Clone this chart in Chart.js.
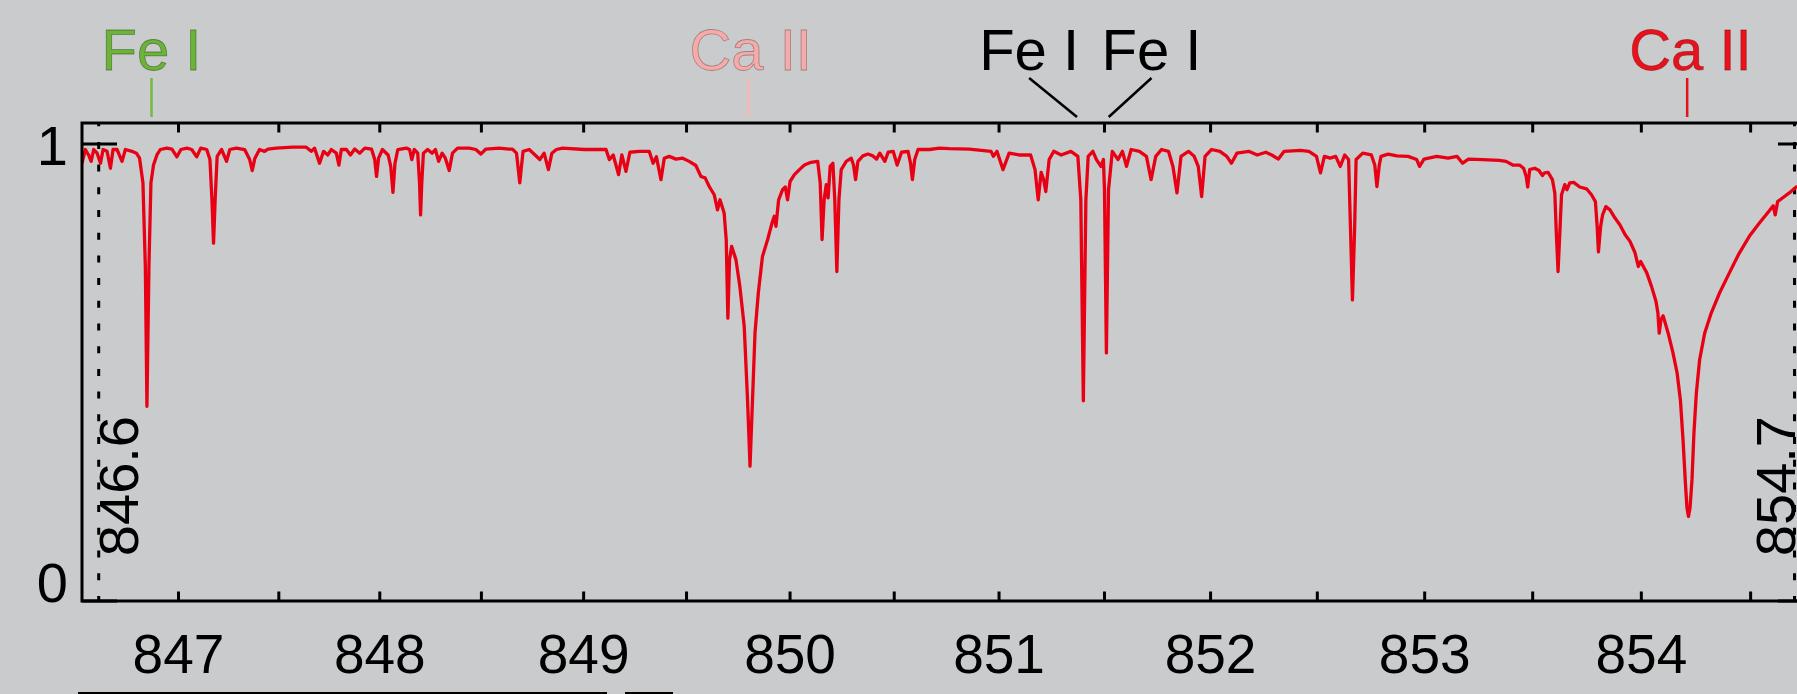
<!DOCTYPE html>
<html>
<head>
<meta charset="utf-8">
<title>Ca II triplet region spectrum</title>
<script src="https://cdn.jsdelivr.net/npm/chart.js@4.4.1/dist/chart.umd.min.js"></script>
<style>
  html, body { margin: 0; padding: 0; background: #c9cbcc; overflow: hidden; }
  #wrap { width: 1797px; height: 694px; position: relative; overflow: hidden; }
  canvas { display: block; }
</style>
</head>
<body>
<!-- the plot box runs a little past the right edge of the page, so the canvas is wider than the view -->
<div id="wrap"><canvas id="spec" width="1813" height="694" style="width:1813px;height:694px"></canvas></div>
<script>
// Normalised flux against wavelength (nm)
const wavelength = [
  846.516, 846.533, 846.549, 846.562, 846.575, 846.592, 846.609, 846.622, 846.642, 846.659,
  846.672, 846.692, 846.717, 846.734, 846.767, 846.789, 846.805, 846.822, 846.834, 846.842,
  846.852, 846.862, 846.875, 846.892, 846.909, 846.942, 846.967, 846.992, 847.012, 847.042,
  847.066, 847.091, 847.111, 847.141, 847.157, 847.167, 847.175, 847.183, 847.193, 847.215,
  847.240, 847.256, 847.289, 847.330, 847.355, 847.368, 847.381, 847.404, 847.429, 847.446,
  847.487, 847.570, 847.636, 847.661, 847.677, 847.702, 847.722, 847.743, 847.760, 847.785,
  847.798, 847.810, 847.835, 847.855, 847.876, 847.901, 847.926, 847.959, 847.975, 847.984,
  847.994, 848.013, 848.041, 848.054, 848.065, 848.075, 848.089, 848.131, 848.147, 848.158,
  848.170, 848.187, 848.196, 848.201, 848.207, 848.215, 848.236, 848.258, 848.274, 848.290,
  848.307, 848.323, 848.342, 848.358, 848.383, 848.440, 848.473, 848.497, 848.522, 848.587,
  848.636, 848.652, 848.672, 848.688, 848.704, 848.734, 848.763, 848.786, 848.807, 848.828,
  848.845, 848.867, 848.897, 849.003, 849.109, 849.125, 849.144, 849.170, 849.186, 849.206,
  849.225, 849.270, 849.319, 849.338, 849.354, 849.376, 849.392, 849.416, 849.449, 849.481,
  849.513, 849.545, 849.570, 849.590, 849.610, 849.634, 849.650, 849.662, 849.682, 849.692,
  849.700, 849.708, 849.718, 849.739, 849.758, 849.779, 849.795, 849.807, 849.819, 849.831,
  849.847, 849.867, 849.892, 849.913, 849.924, 849.932, 849.945, 849.964, 849.977, 849.988,
  850.000, 850.021, 850.045, 850.069, 850.101, 850.133, 850.145, 850.154, 850.164, 850.174,
  850.183, 850.193, 850.206, 850.215, 850.225, 850.235, 850.246, 850.270, 850.294, 850.305,
  850.315, 850.326, 850.350, 850.374, 850.398, 850.415, 850.431, 850.455, 850.471, 850.495,
  850.514, 850.535, 850.566, 850.578, 850.587, 850.598, 850.614, 850.669, 850.716, 850.763,
  850.858, 850.962, 850.973, 850.990, 851.019, 851.048, 851.095, 851.150, 851.171, 851.186,
  851.200, 851.212, 851.222, 851.238, 851.260, 851.295, 851.341, 851.374, 851.388, 851.400,
  851.412, 851.423, 851.445, 851.462, 851.483, 851.495, 851.500, 851.509, 851.519, 851.537,
  851.564, 851.585, 851.604, 851.626, 851.665, 851.698, 851.720, 851.742, 851.769, 851.802,
  851.823, 851.842, 851.861, 851.896, 851.923, 851.942, 851.958, 851.974, 852.004, 852.044,
  852.076, 852.098, 852.124, 852.179, 852.219, 852.259, 852.287, 852.318, 852.345, 852.421,
  852.461, 852.496, 852.515, 852.533, 852.560, 852.586, 852.607, 852.628, 852.646, 852.655,
  852.664, 852.674, 852.681, 852.712, 852.752, 852.768, 852.778, 852.789, 852.797, 852.830,
  852.871, 852.923, 852.963, 852.976, 852.997, 853.056, 853.109, 853.150, 853.176, 853.203,
  853.269, 853.346, 853.377, 853.408, 853.439, 853.458, 853.470, 853.477, 853.486, 853.509,
  853.529, 853.545, 853.555, 853.571, 853.591, 853.602, 853.609, 853.617, 853.625, 853.633,
  853.648, 853.658, 853.671, 853.689, 853.717, 853.748, 853.771, 853.789, 853.797, 853.803,
  853.813, 853.822, 853.837, 853.856, 853.879, 853.902, 853.925, 853.948, 853.971, 853.986,
  853.997, 854.025, 854.047, 854.067, 854.076, 854.082, 854.090, 854.100, 854.123, 854.145,
  854.164, 854.179, 854.191, 854.202, 854.209, 854.216, 854.223, 854.232, 854.241, 854.252,
  854.267, 854.290, 854.320, 854.358, 854.403, 854.426, 854.449, 854.494, 854.540, 854.577,
  854.603, 854.612, 854.623, 854.645, 854.676, 854.708, 854.714
];

const flux = [
  0.958, 0.988, 0.976, 0.962, 0.988, 0.980, 0.958, 0.988, 0.984, 0.947,
  0.988, 0.988, 0.962, 0.988, 0.984, 0.980, 0.969, 0.915, 0.732, 0.426,
  0.732, 0.915, 0.954, 0.976, 0.988, 0.991, 0.989, 0.972, 0.988, 0.991,
  0.988, 0.972, 0.991, 0.988, 0.966, 0.878, 0.783, 0.878, 0.973, 0.988,
  0.962, 0.988, 0.991, 0.988, 0.966, 0.942, 0.969, 0.988, 0.984, 0.989,
  0.991, 0.993, 0.993, 0.984, 0.991, 0.958, 0.984, 0.976, 0.988, 0.980,
  0.954, 0.988, 0.988, 0.976, 0.989, 0.980, 0.991, 0.989, 0.966, 0.929,
  0.969, 0.988, 0.976, 0.951, 0.894, 0.958, 0.988, 0.991, 0.988, 0.966,
  0.988, 0.980, 0.915, 0.845, 0.915, 0.980, 0.988, 0.980, 0.988, 0.962,
  0.980, 0.969, 0.942, 0.980, 0.991, 0.991, 0.988, 0.978, 0.989, 0.991,
  0.989, 0.989, 0.980, 0.915, 0.984, 0.988, 0.976, 0.966, 0.980, 0.944,
  0.980, 0.988, 0.991, 0.988, 0.988, 0.966, 0.976, 0.933, 0.976, 0.940,
  0.982, 0.984, 0.984, 0.958, 0.972, 0.922, 0.969, 0.973, 0.967, 0.969,
  0.962, 0.953, 0.929, 0.926, 0.907, 0.889, 0.856, 0.878, 0.849, 0.791,
  0.619, 0.747, 0.776, 0.747, 0.688, 0.601, 0.440, 0.295, 0.440, 0.586,
  0.674, 0.754, 0.791, 0.827, 0.842, 0.820, 0.878, 0.900, 0.906, 0.878,
  0.918, 0.933, 0.944, 0.954, 0.960, 0.962, 0.915, 0.791, 0.878, 0.911,
  0.882, 0.951, 0.958, 0.878, 0.721, 0.878, 0.944, 0.962, 0.969, 0.954,
  0.922, 0.962, 0.974, 0.978, 0.974, 0.967, 0.980, 0.962, 0.982, 0.984,
  0.954, 0.982, 0.984, 0.958, 0.922, 0.966, 0.988, 0.988, 0.991, 0.990,
  0.989, 0.984, 0.973, 0.984, 0.944, 0.980, 0.976, 0.976, 0.944, 0.878,
  0.938, 0.922, 0.896, 0.966, 0.984, 0.976, 0.984, 0.973, 0.878, 0.438,
  0.878, 0.973, 0.984, 0.966, 0.951, 0.966, 0.900, 0.543, 0.900, 0.984,
  0.966, 0.984, 0.951, 0.988, 0.984, 0.973, 0.922, 0.973, 0.988, 0.984,
  0.951, 0.893, 0.973, 0.984, 0.973, 0.951, 0.885, 0.973, 0.988, 0.984,
  0.973, 0.958, 0.980, 0.984, 0.976, 0.982, 0.976, 0.967, 0.984, 0.986,
  0.984, 0.973, 0.937, 0.973, 0.969, 0.973, 0.951, 0.976, 0.966, 0.813,
  0.659, 0.813, 0.966, 0.980, 0.976, 0.954, 0.907, 0.954, 0.973, 0.978,
  0.974, 0.973, 0.966, 0.951, 0.967, 0.973, 0.969, 0.973, 0.958, 0.967,
  0.966, 0.964, 0.962, 0.954, 0.954, 0.947, 0.929, 0.906, 0.944, 0.947,
  0.942, 0.931, 0.937, 0.938, 0.922, 0.893, 0.805, 0.721, 0.805, 0.889,
  0.911, 0.900, 0.915, 0.916, 0.906, 0.902, 0.889, 0.874, 0.820, 0.764,
  0.820, 0.845, 0.863, 0.856, 0.838, 0.823, 0.802, 0.787, 0.762, 0.732,
  0.743, 0.718, 0.688, 0.656, 0.630, 0.586, 0.616, 0.624, 0.586, 0.543,
  0.499, 0.440, 0.353, 0.258, 0.204, 0.185, 0.204, 0.265, 0.368, 0.455,
  0.528, 0.586, 0.630, 0.674, 0.718, 0.740, 0.762, 0.798, 0.827, 0.849,
  0.865, 0.845, 0.874, 0.882, 0.893, 0.906, 0.907
];

// Axis ticks
const xTickValues = [847, 847.5, 848, 848.5, 849, 849.5, 850, 850.5, 851, 851.5, 852, 852.5, 853, 853.5, 854, 854.5];
const xLabelValues = [847, 848, 849, 850, 851, 852, 853, 854];
const xLabels = ['847', '848', '849', '850', '851', '852', '853', '854'];
const yTickValues = [0, 1];
const yLabels = ['0', '1'];

// Window edges marked with dotted lines
const edgeValues = [846.6, 854.7];
const edgeLabels = ['846.6', '854.7'];

// Identified lines above the frame
const lineNames = ['Fe I', 'Ca II', 'Fe I', 'Fe I', 'Ca II'];
const lineWavelengths = [846.865, 849.80, 851.37, 851.52, 854.21];
const lineLabelAt = [846.865, 849.81, 851.143, 851.722, 854.225];
const lineFill = ['#6cb33c', '#f6abaa', '#000000', '#000000', '#e9121c'];
const lineEdge = ['rgba(40,80,15,0.55)', 'rgba(110,80,80,0.55)', null, null, 'rgba(120,0,8,0.5)'];
const lineTick = ['#74b842', '#f6b8b6', '#000000', '#000000', '#e8101c'];
const lineSlanted = [false, false, true, true, false];

// Linear axis with a gentle quadratic stretch along the pixel direction
class WarpedScale extends Chart.LinearScale {
  static id = 'warped';
  getPixelForValue(value) {
    if (value === null || value === undefined) return NaN;
    const k = this.options.warp || 0;
    const u = (value - this.min) / (this.max - this.min);
    const g = (1 - k) * u + k * u * u;
    return this.left + g * (this.right - this.left);
  }
  getValueForPixel(pixel) {
    const k = this.options.warp || 0;
    const G = (pixel - this.left) / (this.right - this.left);
    const u = k ? (-(1 - k) + Math.sqrt((1 - k) * (1 - k) + 4 * k * G)) / (2 * k) : G;
    return this.min + u * (this.max - this.min);
  }
}
Chart.register(WarpedScale);

const FONT = '"Liberation Sans", Arial, Helvetica, sans-serif';

const framePlugin = {
  id: 'frame',
  beforeDatasetsDraw(chart) {
    const { ctx, chartArea: a } = chart;
    const xs = chart.scales.x;
    ctx.save();
    ctx.strokeStyle = '#000';
    ctx.lineWidth = 3;
    ctx.setLineDash([7, 15.7]);
    ctx.lineDashOffset = 3.8;
    edgeValues.forEach(v => {
      const px = xs.getPixelForValue(v);
      ctx.beginPath();
      ctx.moveTo(px, a.top);
      ctx.lineTo(px, a.bottom);
      ctx.stroke();
    });
    ctx.restore();
  },
  afterDatasetsDraw(chart) {
    const { ctx, chartArea: a } = chart;
    const xs = chart.scales.x, ys = chart.scales.y;
    ctx.save();
    ctx.strokeStyle = '#000';
    ctx.fillStyle = '#000';
    ctx.lineWidth = 3;
    ctx.lineCap = 'butt';

    // frame
    ctx.beginPath();
    ctx.moveTo(a.right, a.top);
    ctx.lineTo(a.left, a.top);
    ctx.lineTo(a.left, a.bottom);
    ctx.lineTo(a.right, a.bottom);
    ctx.lineTo(a.right, a.top);
    ctx.stroke();

    // wavelength ticks, pointing inward on top and bottom
    xTickValues.forEach(v => {
      const px = xs.getPixelForValue(v);
      ctx.beginPath();
      ctx.moveTo(px, a.bottom);
      ctx.lineTo(px, a.bottom - 9.5);
      ctx.moveTo(px, a.top);
      ctx.lineTo(px, a.top + 9.5);
      ctx.stroke();
    });

    // flux ticks on both sides
    yTickValues.forEach(v => {
      const py = ys.getPixelForValue(v);
      ctx.beginPath();
      ctx.moveTo(a.left, py);
      ctx.lineTo(a.left + 35, py);
      ctx.moveTo(a.right, py);
      ctx.lineTo(a.right - 35, py);
      ctx.stroke();
    });

    // tick labels
    ctx.font = '55px ' + FONT;
    ctx.textAlign = 'center';
    ctx.textBaseline = 'alphabetic';
    xLabelValues.forEach((v, i) => {
      ctx.fillText(xLabels[i], xs.getPixelForValue(v), a.bottom + 72);
    });
    ctx.font = '56px ' + FONT;
    ctx.textAlign = 'right';
    yTickValues.forEach((v, i) => {
      const py = ys.getPixelForValue(v);
      ctx.fillText(yLabels[i], a.left - 14, Math.min(py + 21, a.bottom + 1));
    });

    // rotated labels beside the dotted edge lines
    ctx.font = '56px ' + FONT;
    edgeValues.forEach((v, i) => {
      const px = xs.getPixelForValue(v);
      const onLeft = i === 0;
      ctx.save();
      ctx.translate(onLeft ? px + 39 : px + 0.5, a.bottom - 185);
      ctx.rotate(-Math.PI / 2);
      ctx.textAlign = 'right';
      ctx.fillText(edgeLabels[i], 0, 0);
      ctx.restore();
    });

    // line identifications
    const labelBase = a.top - 53;
    const tickTop = a.top - 45;
    const tickBottom = a.top - 6;
    ctx.font = '58px ' + FONT;
    ctx.textAlign = 'center';
    lineNames.forEach((name, i) => {
      const lx = xs.getPixelForValue(lineLabelAt[i]);
      const tx = xs.getPixelForValue(lineWavelengths[i]);
      ctx.fillStyle = lineFill[i];
      ctx.fillText(name, lx, labelBase);
      if (lineEdge[i]) {
        ctx.lineWidth = 0.8;
        ctx.strokeStyle = lineEdge[i];
        ctx.strokeText(name, lx, labelBase);
      }
      ctx.lineWidth = 2.5;
      ctx.strokeStyle = lineTick[i];
      ctx.beginPath();
      ctx.moveTo(lineSlanted[i] ? lx : tx, tickTop);
      ctx.lineTo(tx, tickBottom);
      ctx.stroke();
    });

    // strip along the lower edge
    ctx.fillStyle = '#000';
    ctx.fillRect(a.left - 4, a.bottom + 91, 529, 3);
    ctx.fillRect(a.left + 543, a.bottom + 91, 48, 3);
    ctx.restore();
  }
};

const points = wavelength.map((w, i) => ({ x: w, y: flux[i] }));

new Chart(document.getElementById('spec').getContext('2d'), {
  type: 'line',
  data: {
    datasets: [{
      data: points,
      borderColor: 'rgb(232, 0, 20)',
      borderWidth: 3.3,
      borderJoinStyle: 'round',
      borderCapStyle: 'round',
      pointRadius: 0,
      tension: 0,
      fill: false
    }]
  },
  options: {
    responsive: false,
    animation: false,
    devicePixelRatio: 1,
    events: [],
    layout: { padding: { left: 82, top: 123, right: 0, bottom: 93 } },
    scales: {
      x: { type: 'warped', warp: 0.0506, min: 846.516, max: 854.784, bounds: 'data', display: false },
      y: { type: 'linear', min: 0, max: 1.046, bounds: 'data', display: false }
    },
    plugins: { legend: { display: false }, tooltip: { enabled: false } }
  },
  plugins: [framePlugin]
});
</script>
</body>
</html>
